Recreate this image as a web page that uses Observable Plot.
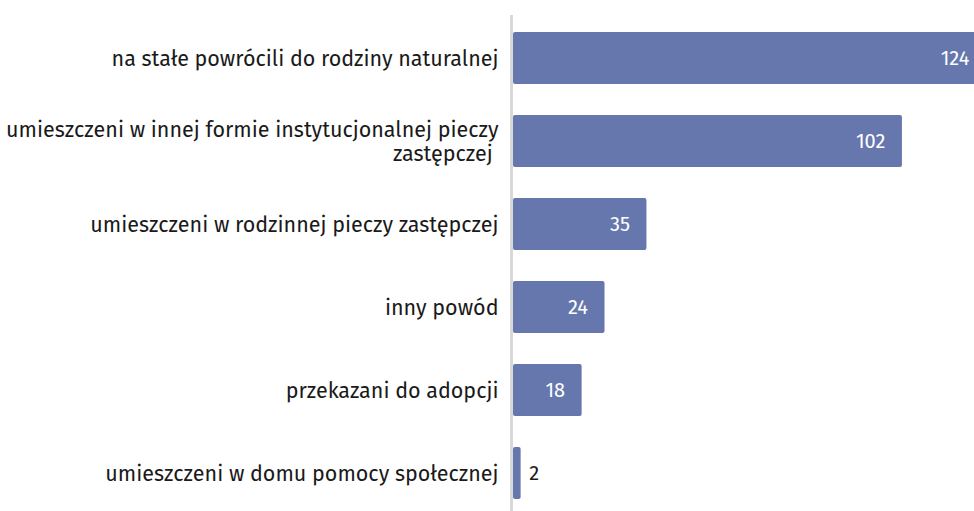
<!DOCTYPE html>
<html>
<head>
<meta charset="utf-8">
<script src="https://cdn.jsdelivr.net/npm/d3@7"></script>
<script src="https://cdn.jsdelivr.net/npm/@observablehq/plot@0.6"></script>
<style>
  html, body { margin: 0; padding: 0; background: #fff; overflow: hidden; }
  #chart svg { display: block; }
</style>
</head>
<body>
<div id="chart"></div>
<script>
const categories = [
  "na stałe powrócili do rodziny naturalnej",
  "umieszczeni w innej formie instytucjonalnej pieczy\nzastępczej\u00a0",
  "umieszczeni w rodzinnej pieczy zastępczej",
  "inny powód",
  "przekazani do adopcji",
  "umieszczeni w domu pomocy społecznej"
];
const values = [124, 102, 35, 24, 18, 2];

const data = categories.map((c, i) => ({category: c, value: values[i]}));
const barColor = "#6677ad";
const fontFamily = "'Fira Sans', 'Open Sans', 'Noto Sans', sans-serif";

const chart = Plot.plot({
  width: 974,
  height: 530,
  marginLeft: 513,
  marginRight: 0,
  marginTop: 15,
  marginBottom: 14,
  style: {fontFamily, background: "#fff"},
  x: {domain: [0, 120.9], axis: null},
  y: {domain: categories, paddingInner: 0.377, paddingOuter: 0.1885, axis: null},
  marks: [
    Plot.ruleX([0], {stroke: "#d9d9d9", strokeWidth: 3, dx: -2}),
    Plot.barX(data, {x: "value", y: "category", fill: barColor, rx: 2, clip: "frame"}),
    Plot.text(data, {
      x: 0, y: "category", text: "category",
      textAnchor: "end", dx: -15, fontSize: 21.5, fill: "#1a1a1a", lineHeight: 1.08
    }),
    Plot.text(data.filter(d => d.value >= 10), {
      x: "value", y: "category", text: d => String(d.value),
      textAnchor: "end", dx: -17, fontSize: 20, fill: "#fff", clip: "frame"
    }),
    Plot.text(data.filter(d => d.value < 10), {
      x: "value", y: "category", text: d => String(d.value),
      textAnchor: "start", dx: 8, fontSize: 20, fill: "#1a1a1a"
    })
  ]
});
document.getElementById("chart").appendChild(chart);
</script>
</body>
</html>
